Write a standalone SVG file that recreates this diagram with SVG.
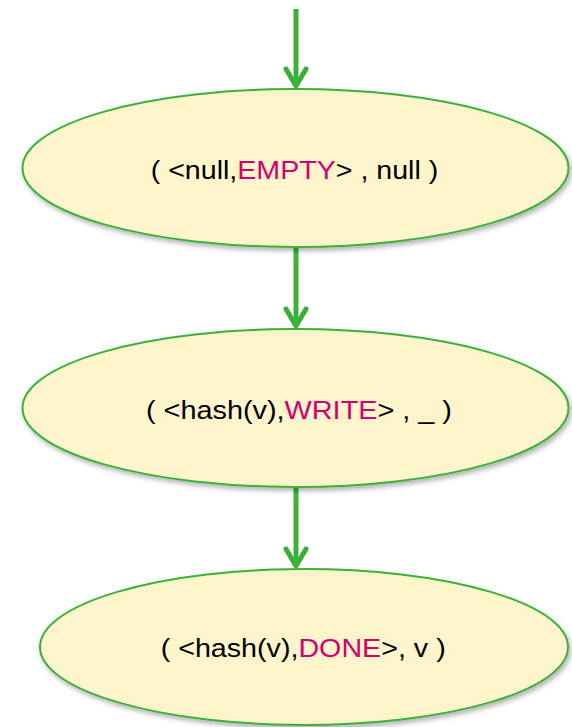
<svg xmlns="http://www.w3.org/2000/svg" width="572" height="727" viewBox="0 0 572 727">
<defs>
<filter id="shadow" x="-10%" y="-20%" width="125%" height="150%">
<feDropShadow dx="2" dy="3" stdDeviation="2.5" flood-color="#000" flood-opacity="0.3"/>
</filter>
<marker id="chev" markerUnits="userSpaceOnUse" orient="auto" refX="0" refY="0" overflow="visible" markerWidth="20" markerHeight="20">
<path d="M-17,-10 L0,0 L-17,10" fill="none" stroke="#3bb13b" stroke-width="5" stroke-linecap="round" stroke-linejoin="round"/>
</marker>
</defs>
<style>
.node ellipse { fill: #fef5cc; stroke: #3bb13b; stroke-width: 2; filter: url(#shadow); }
.node text { font-family: "Liberation Sans", Arial, sans-serif; font-size: 25px; fill: #000; }
.node tspan.k { fill: #d1006e; }
.edge { stroke: #3bb13b; stroke-width: 5; fill: none; marker-end: url(#chev); }
</style>
<g id="connectors">
<line class="edge" x1="296" y1="9" x2="296" y2="86"/>
<line class="edge" x1="296" y1="247" x2="296" y2="326"/>
<line class="edge" x1="296" y1="487" x2="296" y2="566"/>
</g>
<g id="node1" class="node">
<ellipse cx="295.5" cy="168" rx="273" ry="79"/>
<text x="150.7" y="179.3" textLength="287.6" lengthAdjust="spacingAndGlyphs">( &lt;null,<tspan class="k">EMPTY</tspan>&gt; , null )</text>
</g>
<g id="node2" class="node">
<ellipse cx="295.5" cy="408" rx="273" ry="79"/>
<text x="146" y="419.3" textLength="306" lengthAdjust="spacingAndGlyphs">( &lt;hash(v),<tspan class="k">WRITE</tspan>&gt; , _ )</text>
</g>
<g id="node3" class="node">
<ellipse cx="304" cy="647" rx="264" ry="78"/>
<text x="160.7" y="657.3" textLength="285" lengthAdjust="spacingAndGlyphs">( &lt;hash(v),<tspan class="k">DONE</tspan>&gt;, v )</text>
</g>
</svg>
